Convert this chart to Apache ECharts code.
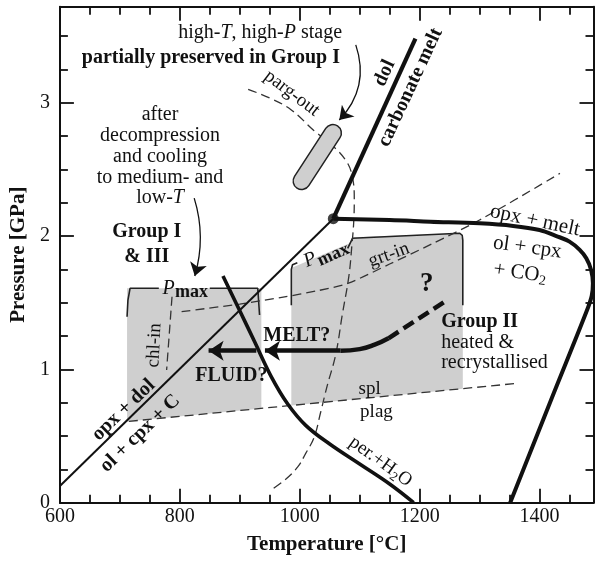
<!DOCTYPE html>
<html><head><meta charset="utf-8">
<script src="https://cdn.jsdelivr.net/npm/echarts@6/dist/echarts.min.js"></script>
<style>html,body{margin:0;padding:0;background:#fff}#c{width:595px;height:563px}</style>
</head><body><div id="c"></div>
<script>
// ---- tick values ----
const xMajorTicks = [600, 800, 1000, 1200, 1400];
const xMinorTicks = [650, 700, 750, 850, 900, 950, 1050, 1100, 1150, 1250, 1300, 1350, 1450];
const yMajorTicks = [0, 1, 2, 3];
const yMinorTicks = [0.25, 0.5, 0.75, 1.25, 1.5, 1.75, 2.25, 2.5, 2.75, 3.25, 3.5];

// ---- reaction curves [T °C, P GPa] ----
const opxDol = [[600, 0.125], [1056, 2.13]];
const dolMelt = [[1056, 2.13], [1193, 3.48]];
const opxMelt = [[1056, 2.13], [1150, 2.12], [1218, 2.108], [1300, 2.095], [1356, 2.076], [1400, 2.045], [1428, 2.0], [1450, 1.958], [1467, 1.896], [1478, 1.833], [1486, 1.746], [1489, 1.646], [1487, 1.55], [1478, 1.43], [1420, 0.78], [1351, 0]];
const perH2O = [[872, 1.70], [900, 1.44], [925, 1.205], [952, 0.95], [980, 0.74], [1010, 0.58], [1050, 0.44], [1100, 0.29], [1150, 0.14], [1190, 0]];
const pargOut = [[914, 3.10], [950, 3.035], [986, 2.946], [1024, 2.79], [1052, 2.69], [1078, 2.56], [1088, 2.44], [1091, 2.27], [1090, 2.10], [1087, 1.93], [1082, 1.70], [1071, 1.41], [1060, 1.11], [1046, 0.88], [1035, 0.68], [1024, 0.49], [1010, 0.37], [997, 0.27], [975, 0.17], [952, 0.095]];
const grtIn = [[803, 1.433], [900, 1.49], [970, 1.54], [1030, 1.59], [1080, 1.645], [1150, 1.79], [1220, 1.94], [1300, 2.12], [1434, 2.47]];
const splPlag = [[715, 0.61], [1364, 0.896]];
const chlIn = [[787, 1.545], [778, 0.995]];
const triplePoint = [[1056, 2.13]];

// ---- P-T fields of xenolith groups ----
const groupIBox = [[712, 1.608], [936, 1.608], [936, 0.707], [712, 0.609]];
const groupIIBox = [[986, 0.729], [986, 1.76], [1085, 1.95], [1090, 1.99], [1267, 2.021], [1272, 1.97], [1272, 0.855]];
const pmaxLeftA = [[712, 1.395], [713.5, 1.52], [717, 1.608], [765, 1.608]];
const pmaxLeftB = [[850, 1.608], [930, 1.608], [933, 1.408]];
const pmaxRightA = [[986, 1.48], [986, 1.75], [988, 1.785], [996, 1.80]];
const pmaxRightB = [[1080, 1.908], [1088, 1.983], [1267, 2.021], [1271, 2.005], [1272, 1.97], [1272, 1.48]];
const hpStage = [[995.5, 2.359, 1063, 2.826]];

// ---- paths / arrows ----
const meltPathSolid = [[1068, 1.14], [1100, 1.152], [1125, 1.185], [1148, 1.233]];
const meltPathDashed = [[1148, 1.233], [1240, 1.503]];
const meltArrow = [[1068, 1.14], [942, 1.14]];
const fluidArrow = [[927.6, 1.14], [848, 1.14]];
const stageArrow = [[1093.5, 3.434], [1066, 2.87]];
const coolingArrow = [[824, 2.284], [825, 1.70]];

// ---- annotations ----
const annotations = [
  { at: [934, 3.523], text: '{n|high-}{i|T}{n|, high-}{i|P}{n| stage}' },
  { at: [851.9, 3.336], text: '{b|partially preserved in Group I}' },
  { at: [987, 3.07], text: '{sm|parg-out}', rot: -37 },
  { at: [1141.6, 3.221], text: '{b|dol}', rot: 65 },
  { at: [1184.7, 3.115], text: '{b|carbonate melt}', rot: 65 },
  { at: [767, 2.596], text: '{n|after}\n{n|decompression}\n{n|and cooling}\n{n|to medium- and}\n{n|low-}{i|T}', lh: 20.7 },
  { at: [744.9, 1.94], text: '{b|Group I}\n{b|& III}', lh: 25 },
  { at: [781.4, 1.601], text: '{i|P}' },
  { at: [819.6, 1.58], text: '{bm|max}' },
  { at: [1017.6, 1.82], text: '{i|P}', rot: 24 },
  { at: [1056.4, 1.858], text: '{bm|max}', rot: 24 },
  { at: [1148.8, 1.858], text: '{sm|grt-in}', rot: 20 },
  { at: [757.7, 1.18], text: '{sm|chl-in}', rot: 87 },
  { at: [706.2, 0.695], text: '{b|opx + dol}', rot: 44 },
  { at: [733.8, 0.52], text: '{b|ol + cpx + C}', rot: 44 },
  { at: [995.2, 1.25], text: '{b|MELT?}' },
  { at: [886, 0.95], text: '{b|FLUID?}' },
  { at: [1212, 1.643], text: '{q|?}' },
  { at: [1236, 1.202], text: '{b|Group II}\n{n|heated &}\n{n|recrystallised}', lh: 20.7, align: 'left' },
  { at: [1392.3, 2.115], text: '{l|opx + melt}', rot: -12 },
  { at: [1379.7, 1.914], text: '{l|ol + cpx}', rot: -8 },
  { at: [1367.3, 1.723], text: '{l|+ CO}{s|2}', rot: -8 },
  { at: [1116.7, 0.853], text: '{sm|spl}' },
  { at: [1128, 0.683], text: '{sm|plag}' },
  { at: [1135, 0.308], text: '{sm|per.+H}{ss|2}{sm|O}', rot: -36 }
];

const F = 'Liberation Serif';
const C = '#111';
function st(o) {
  return Object.assign({ fontFamily: F, color: C, textBorderWidth: 0, textBorderColor: 'transparent', textShadowBlur: 0 }, o);
}
const RICH = {
  n: st({ fontSize: 20 }),
  l: st({ fontSize: 21 }),
  sm: st({ fontSize: 19 }),
  i: st({ fontSize: 20, fontStyle: 'italic' }),
  b: st({ fontSize: 20, fontWeight: 'bold' }),
  bm: st({ fontSize: 18, fontWeight: 'bold' }),
  q: st({ fontSize: 27, fontWeight: 'bold' }),
  s: st({ fontSize: 14, padding: [10, 0, 0, 0] }),
  ss: st({ fontSize: 13, padding: [10, 0, 0, 0] })
};

const XMIN = 600, XMAX = 1490, YMIN = 0, YMAX = 3.72;
const axisLineStyle = { color: '#111', width: 2 };
const plain = function (v) { return String(v); };

function xAx(pos, ticks, len, main) {
  return {
    type: 'value', min: XMIN, max: XMAX, position: pos,
    axisLine: { show: main, onZero: false, lineStyle: axisLineStyle },
    axisTick: { show: true, inside: true, length: len, customValues: ticks, lineStyle: { color: '#111', width: 1.8 } },
    axisLabel: pos === 'bottom' && main ? { show: true, customValues: xMajorTicks, formatter: plain, margin: 4, fontSize: 20, fontFamily: F, color: C } : { show: false },
    splitLine: { show: false },
    name: pos === 'bottom' && main ? 'Temperature [°C]' : '',
    nameLocation: 'middle', nameGap: 31,
    nameTextStyle: { fontFamily: F, fontSize: 21, fontWeight: 'bold', color: C }
  };
}
function yAx(pos, ticks, len, main) {
  return {
    type: 'value', min: YMIN, max: YMAX, position: pos,
    axisLine: { show: main, onZero: false, lineStyle: axisLineStyle },
    axisTick: { show: true, inside: true, length: len, customValues: ticks, lineStyle: { color: '#111', width: 1.8 } },
    axisLabel: pos === 'left' && main ? { show: true, customValues: yMajorTicks, formatter: plain, margin: 10, fontSize: 20, fontFamily: F, color: C } : { show: false },
    splitLine: { show: false },
    name: pos === 'left' && main ? 'Pressure [GPa]' : '',
    nameLocation: 'middle', nameGap: 27,
    nameTextStyle: { fontFamily: F, fontSize: 21, fontWeight: 'bold', color: C }
  };
}

function lineS(data, width, opts) {
  opts = opts || {};
  return {
    type: 'line', data: data, showSymbol: false, symbol: 'none', smooth: opts.smooth || false,
    z: opts.z || 4, silent: true, animation: false,
    lineStyle: { color: opts.color || '#111', width: width, type: opts.type || 'solid', cap: opts.cap || 'butt' }
  };
}
function polyS(points, style, z) {
  return {
    type: 'custom', coordinateSystem: 'cartesian2d', z: z, silent: true, animation: false,
    data: [points[0]],
    renderItem: function (params, api) {
      return { type: 'polygon', shape: { points: points.map(function (p) { return api.coord(p); }) }, style: style };
    }
  };
}
function arrowS(coords, width, size, curv, z) {
  return {
    type: 'lines', coordinateSystem: 'cartesian2d', polyline: false, z: z || 6, silent: true, animation: false,
    symbol: ['none', 'arrow'], symbolSize: size,
    lineStyle: { color: '#111', width: width, curveness: curv || 0, opacity: 1 },
    data: [{ coords: coords }]
  };
}

const chart = echarts.init(document.getElementById('c'), null, { renderer: 'canvas' });
const dashed = [9, 5];
chart.setOption({
  backgroundColor: '#fff',
  animation: false,
  grid: { left: 57.7, right: 1.5, top: 6.7, bottom: 60.3, containLabel: false },
  xAxis: [xAx('bottom', xMajorTicks, 14, true), xAx('bottom', xMinorTicks, 8, false), xAx('top', xMajorTicks, 14, true), xAx('top', xMinorTicks, 8, false)],
  yAxis: [yAx('left', yMajorTicks, 14, true), yAx('left', yMinorTicks, 8, false), yAx('right', yMajorTicks, 14, true), yAx('right', yMinorTicks, 8, false)],
  series: [
    polyS(groupIBox, { fill: '#cfcfcf' }, 1),
    polyS(groupIIBox, { fill: '#cfcfcf' }, 1),
    {
      type: 'custom', coordinateSystem: 'cartesian2d', z: 5, silent: true, animation: false,
      data: hpStage, encode: { x: [0, 2], y: [1, 3] },
      renderItem: function (params, api) {
        const a = api.coord([api.value(0), api.value(1)]);
        const b = api.coord([api.value(2), api.value(3)]);
        const len = Math.hypot(b[0] - a[0], b[1] - a[1]);
        const w = 17;
        return {
          type: 'rect', x: (a[0] + b[0]) / 2, y: (a[1] + b[1]) / 2,
          rotation: -Math.atan2(b[1] - a[1], b[0] - a[0]),
          shape: { x: -len / 2, y: -w / 2, width: len, height: w, r: w / 2 },
          style: { fill: '#cfcfcf', stroke: '#222', lineWidth: 1.5 }
        };
      }
    },
    lineS(pmaxLeftA, 1.6, { color: '#222', z: 3 }),
    lineS(pmaxLeftB, 1.6, { color: '#222', z: 3 }),
    lineS(pmaxRightA, 1.6, { color: '#222', z: 3 }),
    lineS(pmaxRightB, 1.6, { color: '#222', z: 3 }),
    lineS(splPlag, 1.3, { color: '#333', type: dashed, z: 3 }),
    lineS(grtIn, 1.3, { color: '#333', type: dashed, z: 3, smooth: 0.3 }),
    lineS(chlIn, 1.3, { color: '#333', type: dashed, z: 3 }),
    lineS(pargOut, 1.3, { color: '#333', type: dashed, z: 4, smooth: 0.4 }),
    lineS(opxDol, 2, { z: 4 }),
    lineS(dolMelt, 4.2, { z: 4 }),
    lineS(opxMelt, 4, { z: 4, smooth: 0.35 }),
    lineS(perH2O, 3.6, { z: 4, smooth: 0.4 }),
    lineS(meltPathSolid, 4.5, { z: 6, smooth: 0.5 }),
    lineS(meltPathDashed, 4.5, { z: 6, type: [12, 6] }),
    arrowS(meltArrow, 4.5, 15, 0, 6),
    arrowS(fluidArrow, 4.5, 15, 0, 6),
    arrowS(stageArrow, 1.3, 13, 0.3, 6),
    arrowS(coolingArrow, 1.3, 13, 0.15, 6),
    {
      type: 'scatter', data: triplePoint, symbol: 'circle', symbolSize: 11, z: 7, silent: true,
      itemStyle: { color: '#111' }
    },
    {
      type: 'scatter', z: 10, silent: true, symbolSize: 0, itemStyle: { color: '#111' },
      data: annotations.map(function (a) {
        return {
          value: a.at,
          label: {
            show: true, position: 'inside', formatter: a.text, rotate: a.rot || 0,
            align: a.align || 'center', verticalAlign: 'middle',
            lineHeight: a.lh || undefined, rich: RICH, fontFamily: F, fontSize: 20, color: C,
            textBorderWidth: 0, textBorderColor: 'transparent', opacity: 1
          }
        };
      })
    }
  ]
});
</script>
</body></html>
